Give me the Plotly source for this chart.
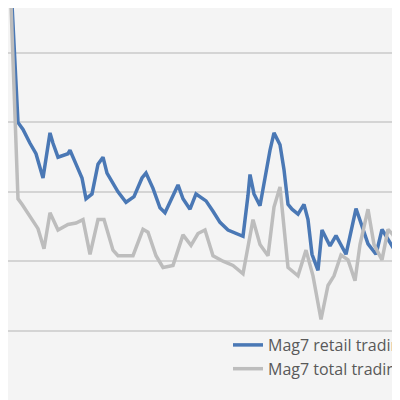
import plotly.graph_objects as go

retail_x = [0, 2, 5, 7.5, 11, 14, 17.5, 21, 22.5, 25, 30, 31, 34, 37, 39, 42, 45, 47.5, 49.5, 52, 55, 59, 63, 67, 69,
            72.5, 76, 78.5, 82.5, 85, 87.5, 91, 94, 99, 102.5, 106, 110, 117.5, 120, 121, 123, 126, 131, 133, 136, 138,
            140, 142, 145, 148, 150, 152, 155, 157, 161, 164, 169, 174, 180, 184, 187, 192, 195, 199]
retail = [5.75, 5.7, 4.0, 3.9, 3.7, 3.55, 3.2, 3.85, 3.7, 3.5, 3.55, 3.6, 3.4, 3.2, 2.9, 2.97, 3.4, 3.5, 3.27, 3.15,
          3.0, 2.85, 2.93, 3.2, 3.27, 3.05, 2.77, 2.7, 2.95, 3.1, 2.9, 2.75, 2.97, 2.87, 2.72, 2.56, 2.45, 2.36,
          2.95, 3.25, 2.97, 2.8, 3.6, 3.85, 3.68, 3.32, 2.82, 2.75, 2.68, 2.82, 2.6, 2.1, 1.87, 2.45, 2.22, 2.37,
          2.1, 2.76, 2.25, 2.1, 2.46, 2.22, 2.08, 2.0]
total_x = [0, 1.5, 5, 7, 15, 18, 21, 25, 30, 34, 37.5, 41, 45, 48, 52.5, 55, 62.5, 67.5, 70, 74, 77.5, 82.5, 87.5,
           91.5, 95, 98.5, 102.5, 107.5, 112.5, 117.5, 122.5, 126, 130, 133, 136, 140, 145, 149, 152.5, 156.5, 160,
           163, 166.5, 170, 173.5, 176, 180, 183, 187, 190, 192.5, 196, 199]
total = [5.75, 5.7, 2.9, 2.82, 2.47, 2.18, 2.7, 2.45, 2.53, 2.55, 2.6, 2.1, 2.6, 2.6, 2.16, 2.08, 2.08, 2.46, 2.42,
         2.08, 1.91, 1.94, 2.38, 2.23, 2.4, 2.45, 2.08, 2.0, 1.94, 1.82, 2.6, 2.24, 2.08, 2.78, 3.07, 1.91, 1.79,
         2.16, 1.79, 1.16, 1.65, 1.79, 2.09, 2.02, 1.72, 2.24, 2.75, 2.24, 2.02, 2.46, 2.38, 2.16, 2.02]

fig = go.Figure()
fig.add_trace(go.Scatter(x=retail_x, y=retail, mode="lines", name="Mag7 retail trading",
                         line=dict(color="#4a78b5", width=3.5)))
fig.add_trace(go.Scatter(x=total_x, y=total, mode="lines", name="Mag7 total trading",
                         line=dict(color="#bdbdbd", width=3.5)))

fig.update_layout(
    width=400, height=400, margin=dict(l=0, r=0, t=0, b=0, autoexpand=False),
    paper_bgcolor="#f4f4f4", plot_bgcolor="#f4f4f4",
    showlegend=True,
    legend=dict(x=0.55, y=0.2, xanchor="left", yanchor="top", bgcolor="rgba(0,0,0,0)",
                font=dict(family="Open Sans", size=16, color="#595959")),
    xaxis=dict(range=[0, 200], showgrid=False, zeroline=False, showticklabels=False, automargin=False,
               tickvals=[13, 49, 85.5, 121, 157, 192.5], ticks="outside", ticklen=6, tickcolor="#c8c8c8",
               showline=True, linecolor="#c8c8c8", linewidth=1.5),
    yaxis=dict(domain=[0.02, 1], range=[0, 5.65], tickvals=[1, 2, 3, 4, 5], showticklabels=False, automargin=False,
               gridcolor="#d4d4d4", gridwidth=1.5, zeroline=False),
)

fig.write_html("out.html")
